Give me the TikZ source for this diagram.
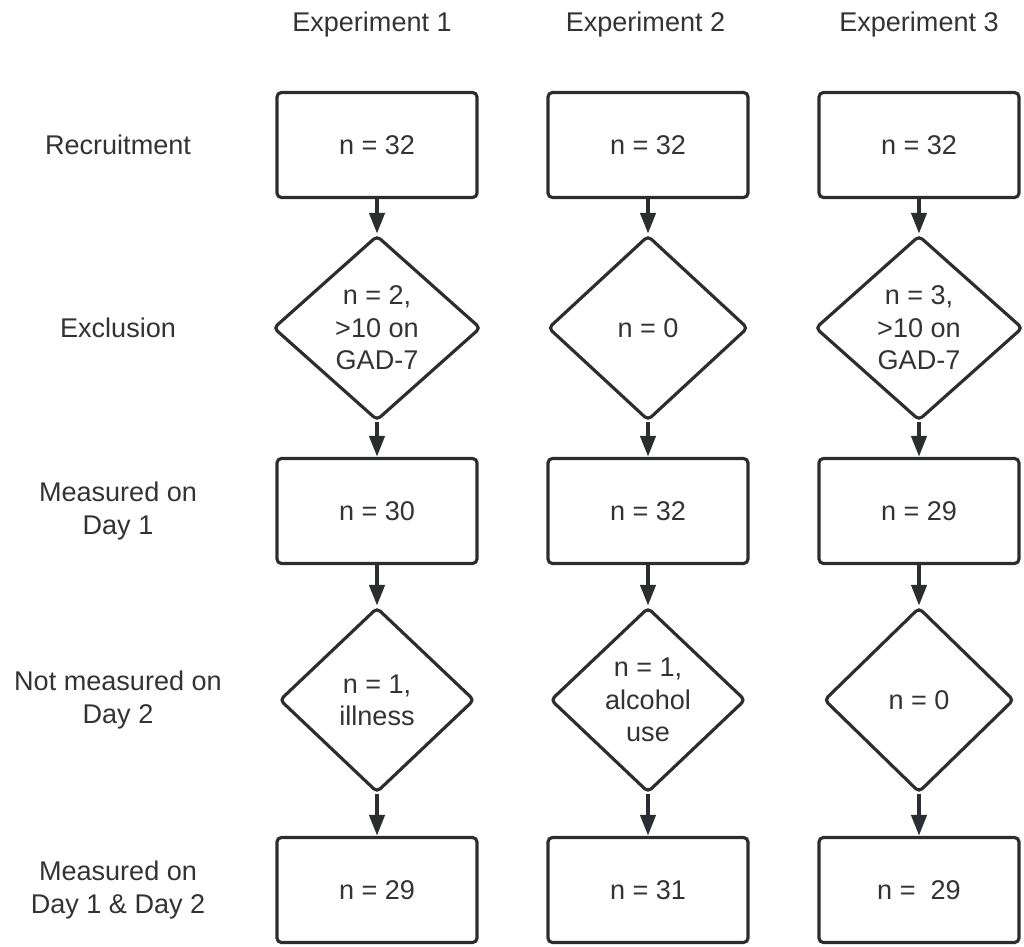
\documentclass[tikz,border=0pt]{standalone}
\usepackage{fontspec}
\setmainfont{Liberation Sans}
\usepackage{tikz}
\definecolor{linegray}{HTML}{2B2D31}
\definecolor{textgray}{HTML}{333333}
\usetikzlibrary{shapes.geometric, arrows.meta}
\tikzstyle{sblock} = [rectangle, draw=linegray, line width=1.8pt, 
text=textgray, text centered, rounded corners=2.5pt, minimum width=4cm, minimum height=2.1cm]
\tikzstyle{dblock} = [diamond, draw=linegray, line width=1.8pt, 
text=textgray, align=center, inner sep=0pt, rounded corners=2.5pt, minimum width=4.15cm, minimum height=3.7cm]
\tikzstyle{rowlabel} = [text=textgray, align=center]
\tikzstyle{flowarrow} = [draw=linegray, line width=2.5pt, -{Triangle[length=12pt, width=8.5pt]}]

\begin{document}
\begin{tikzpicture}[node distance=3.66cm, font=\fontsize{15.4}{18.4}\selectfont]
	\useasboundingbox (0,0) rectangle (20.48,-18.94);
	% experiment 1
	\node (Rec1) [sblock] at (7.54,-2.9) {n = 32};
	\node (Exc1) [dblock, below of=Rec1] {n = 2,\\ >10 on\\ GAD-7};
	\node (Day1a) [sblock, below of=Exc1] {n = 30};
	\node (Miss1) [dblock, below of=Day1a, yshift=-0.12cm, minimum width=3.9cm] {n = 1,\\ illness};
	\node (Both1) [sblock, below of=Miss1, yshift=-0.14cm] {n = 29};
	% experiment 2
	\node (Rec2) [sblock, right of=Rec1, xshift=1.76cm] {n = 32};
	\node (Exc2) [dblock, below of=Rec2, minimum width=4cm] {n = 0};
	\node (Day1b) [sblock, below of=Exc2] {n = 32};
	\node (Miss2) [dblock, below of=Day1b, yshift=-0.12cm, minimum width=3.9cm] {n = 1,\\ alcohol\\ use};
	\node (Both2) [sblock, below of=Miss2, yshift=-0.14cm] {n = 31};
	% experiment 3
	\node (Rec3) [sblock, right of=Rec2, xshift=1.76cm] {n = 32};
	\node (Exc3) [dblock, below of=Rec3] {n = 3,\\ >10 on\\ GAD-7};
	\node (Day1c) [sblock, below of=Exc3] {n = 29};
	\node (Miss3) [dblock, below of=Day1c, yshift=-0.12cm, minimum width=3.8cm] {n = 0};
	\node (Both3) [sblock, below of=Miss3, yshift=-0.14cm] {n = \ 29};
	% headers and row labels
	\node (Head1) [rowlabel, above of=Rec1, yshift=-1.26cm, xshift=-0.1cm] {Experiment 1};
	\node (Head2) [rowlabel, above of=Rec2, yshift=-1.26cm, xshift=-0.05cm] {Experiment 2};
	\node (Head3) [rowlabel, above of=Rec3, yshift=-1.26cm] {Experiment 3};
	\node (LRec) [rowlabel, left of=Rec1, xshift=-1.52cm] {Recruitment};
	\node (LExc) [rowlabel, left of=Exc1, xshift=-1.52cm] {Exclusion};
	\node (LDay1) [rowlabel, left of=Day1a, xshift=-1.52cm] {Measured on\\ Day 1};
	\node (LMiss) [rowlabel, left of=Miss1, xshift=-1.52cm] {Not measured on\\ Day 2};
	\node (LBoth) [rowlabel, left of=Both1, xshift=-1.52cm] {Measured on\\ Day 1 \& Day 2};

	\draw [flowarrow] (Rec1) -- (Exc1);
	\draw [flowarrow] (Exc1) -- (Day1a);
	\draw [flowarrow] (Day1a) -- (Miss1);
	\draw [flowarrow] (Miss1) -- (Both1);
	\draw [flowarrow] (Rec2) -- (Exc2);
	\draw [flowarrow] (Exc2) -- (Day1b);
	\draw [flowarrow] (Day1b) -- (Miss2);
	\draw [flowarrow] (Miss2) -- (Both2);
	\draw [flowarrow] (Rec3) -- (Exc3);
	\draw [flowarrow] (Exc3) -- (Day1c);
	\draw [flowarrow] (Day1c) -- (Miss3);
	\draw [flowarrow] (Miss3) -- (Both3);
\end{tikzpicture}
\end{document}
